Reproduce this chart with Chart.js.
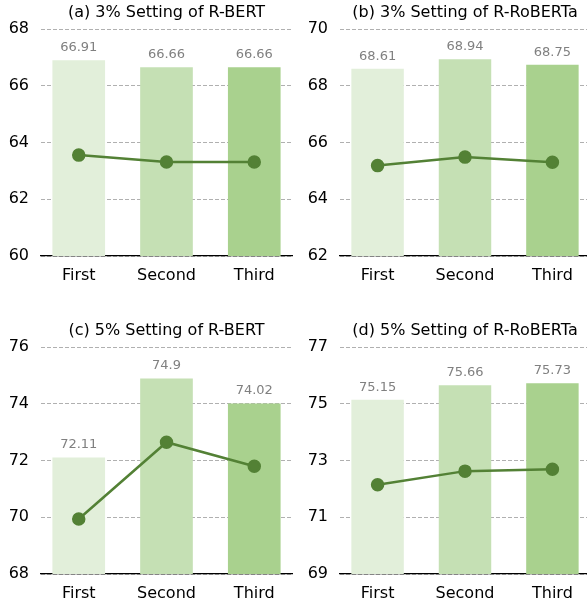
<!DOCTYPE html>
<html lang="en">
<head>
  <meta charset="UTF-8">
  <title>Setting comparison</title>
  <style>
body {
  margin: 0;
  background: #ffffff;
  overflow: hidden;
  font-family: "DejaVu Sans", sans-serif;
}

.wrap {
  position: relative;
  width: 587px;
  height: 606px;
  overflow: hidden;
}

/* each panel gets its own canvas */
.panel {
  position: absolute;
  height: 300px;
}
.left { left: 0; width: 300px; }
.right { left: 290px; width: 310px; }
.top { top: 0; }
.bottom { top: 318px; }
  </style>
</head>
<body>

  <div class="wrap">
    <div class="panel left top"><canvas id="chartA"></canvas></div>
    <div class="panel right top"><canvas id="chartB"></canvas></div>
    <div class="panel left bottom"><canvas id="chartC"></canvas></div>
    <div class="panel right bottom"><canvas id="chartD"></canvas></div>
  </div>

  <script src="https://cdn.jsdelivr.net/npm/chart.js"></script>

  <script>
    // categories and colours
    const categories = ['First', 'Second', 'Third'];
    const barColors = ['#e2efda', '#c5e0b4', '#a9d18e'];
    const lineColor = '#538135';

    // bar values (printed above bars)
    const barsA = [66.91, 66.66, 66.66];
    const barsB = [68.61, 68.94, 68.75];
    const barsC = [72.11, 74.9, 74.02];
    const barsD = [75.15, 75.66, 75.73];

    // line values
    const lineA = [63.56, 63.32, 63.32];
    const lineB = [65.19, 65.49, 65.31];
    const lineC = [69.94, 72.65, 71.80];
    const lineD = [72.15, 72.63, 72.70];

    // titles and y ranges
    const titles = [
      '(a) 3% Setting of R-BERT',
      '(b) 3% Setting of R-RoBERTa',
      '(c) 5% Setting of R-BERT',
      '(d) 5% Setting of R-RoBERTa'
    ];
    const yRanges = [[60, 68], [62, 70], [68, 76], [69, 77]];

    // value text above each bar + panel title centred on the plot area
    const panelText = {
      id: 'panelText',
      afterDatasetsDraw(chart, args, opts) {
        const ctx = chart.ctx;
        const area = chart.chartArea;
        const meta = chart.getDatasetMeta(0);
        const values = chart.data.datasets[0].data;
        ctx.save();
        ctx.font = '13px "DejaVu Sans"';
        ctx.fillStyle = '#808080';
        ctx.textAlign = 'center';
        ctx.textBaseline = 'bottom';
        meta.data.forEach((bar, i) => {
          ctx.fillText(String(values[i].y), bar.x, bar.y - 6);
        });

        ctx.font = '16px "DejaVu Sans"';
        ctx.fillStyle = '#000000';
        ctx.textBaseline = 'middle';
        ctx.fillText(opts.text, (area.left + area.right) / 2, area.top - 16);
        ctx.restore();
      }
    };

    function makeChart(id, bars, line, title, range, yWidth, padRight) {
      const ctx = document.getElementById(id).getContext('2d');
      return new Chart(ctx, {
        data: {
          datasets: [{
            type: 'bar',
            data: bars.map((v, i) => ({ x: i, y: v })),
            backgroundColor: barColors,
            borderWidth: 0,
            barPercentage: 0.6,
            categoryPercentage: 1.0,
            order: 2
          }, {
            type: 'line',
            data: line.map((v, i) => ({ x: i, y: v })),
            borderColor: lineColor,
            backgroundColor: lineColor,
            borderWidth: 2.5,
            pointRadius: 5.5,
            pointHoverRadius: 5.5,
            tension: 0,
            order: 1
          }]
        },
        options: {
          responsive: true,
          maintainAspectRatio: false,
          animation: false,
          layout: { padding: { left: 0, right: padRight, top: 29.3, bottom: 0 } },
          plugins: {
            legend: { display: false },
            tooltip: { enabled: false },
            title: { display: false },
            panelText: { text: title }
          },
          scales: {
            x: {
              type: 'linear',
              offset: false,
              min: -0.43,
              max: 2.43,
              afterBuildTicks: s => { s.ticks = categories.map((c, i) => ({ value: i })); },
              afterFit: s => { s.height = 44; },
              grid: { display: false, drawTicks: false },
              border: { display: true, color: '#000000', width: 1.3 },
              ticks: {
                callback: v => categories[v],
                color: '#000000',
                font: { family: 'DejaVu Sans', size: 16 },
                padding: 10,
                maxRotation: 0
              }
            },
            y: {
              min: range[0],
              max: range[1],
              afterFit: s => { s.width = yWidth; },
              grid: {
                color: '#b0b0b0',
                lineWidth: 1,
                drawTicks: false
              },
              border: { display: false, dash: [4, 2] },
              ticks: {
                stepSize: 2,
                color: '#000000',
                font: { family: 'DejaVu Sans', size: 16 },
                padding: 12
              }
            }
          }
        },
        plugins: [panelText]
      });
    }

    makeChart('chartA', barsA, lineA, titles[0], yRanges[0], 41, 8);
    makeChart('chartB', barsB, lineB, titles[1], yRanges[1], 50, 10);
    makeChart('chartC', barsC, lineC, titles[2], yRanges[2], 41, 8);
    makeChart('chartD', barsD, lineD, titles[3], yRanges[3], 50, 10);
  </script>

</body>
</html>
